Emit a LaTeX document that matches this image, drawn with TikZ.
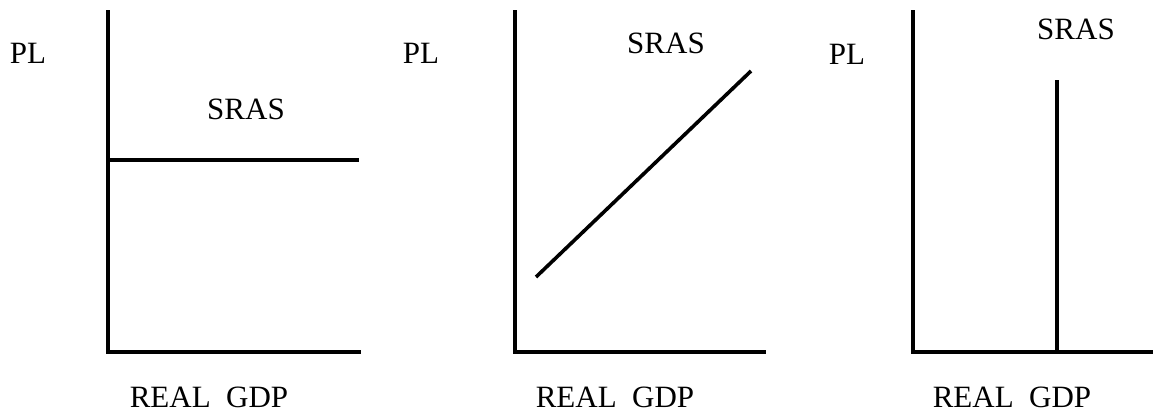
\documentclass[tikz,border=0pt]{standalone}
\usepackage{fontspec}
\setmainfont{Liberation Serif}
\begin{document}
\begin{tikzpicture}[x=1pt,y=-1pt,
  axis/.style={line width=3.6pt,line cap=rect},
  curve/.style={line width=3.6pt},
  lbl/.style={inner sep=0pt,font=\fontsize{31}{36}\selectfont}]
\useasboundingbox (0,0) rectangle (1153,412);
% Panel 1
\coordinate (o1) at (108,352);
\coordinate (t1) at (108,12);
\coordinate (r1) at (359,352);
\coordinate (s1a) at (108,160);
\coordinate (s1b) at (359,160);
\draw[axis] (t1) -- (o1) -- (r1);
\draw[curve] (s1a) -- (s1b);
\node[lbl] (pl1) at (28,53) {PL};
\node[lbl] (sr1) at (246,109) {SRAS};
\node[lbl] (gd1) at (209,397) {REAL\ \ GDP};
% Panel 2
\coordinate (o2) at (515,352);
\coordinate (t2) at (515,12);
\coordinate (r2) at (764,352);
\coordinate (s2a) at (536,277);
\coordinate (s2b) at (751,71);
\draw[axis] (t2) -- (o2) -- (r2);
\draw[curve] (s2a) -- (s2b);
\node[lbl] (pl2) at (421,53) {PL};
\node[lbl] (sr2) at (666,43) {SRAS};
\node[lbl] (gd2) at (615,397) {REAL\ \ GDP};
% Panel 3
\coordinate (o3) at (913,352);
\coordinate (t3) at (913,12);
\coordinate (r3) at (1153,352);
\coordinate (s3a) at (1057,352);
\coordinate (s3b) at (1057,80);
\draw[axis] (t3) -- (o3) -- (r3);
\draw[curve] (s3a) -- (s3b);
\node[lbl] (pl3) at (847,54) {PL};
\node[lbl] (sr3) at (1076,29) {SRAS};
\node[lbl] (gd3) at (1012,397) {REAL\ \ GDP};
\end{tikzpicture}
\end{document}
